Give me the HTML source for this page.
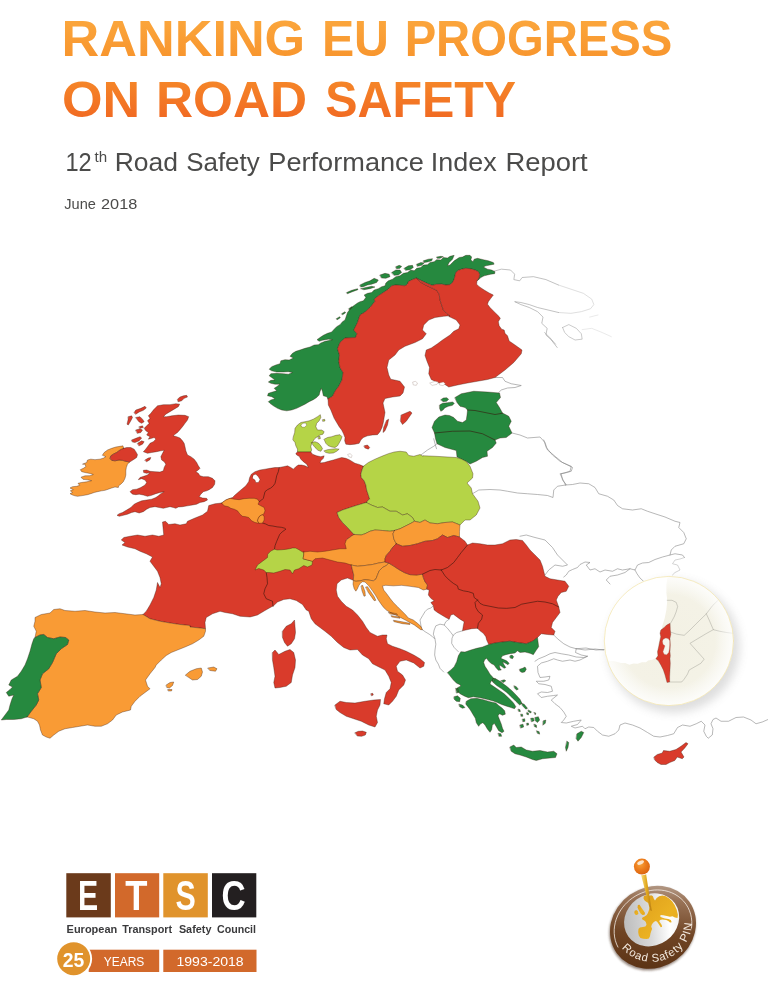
<!DOCTYPE html>
<html lang="en">
<head>
<meta charset="utf-8">
<title>Ranking EU Progress on Road Safety</title>
<style>
html,body{margin:0;padding:0;background:#fff;}
body{width:768px;height:983px;overflow:hidden;position:relative;font-family:"Liberation Sans",sans-serif;}
svg{position:absolute;left:0;top:0;display:block;}
svg text{font-family:"Liberation Sans",sans-serif;}
</style>
</head>
<body>
<svg width="768" height="983" viewBox="0 0 768 983">
<defs>
<linearGradient id="tg" gradientUnits="userSpaceOnUse" x1="0" y1="20" x2="0" y2="118">
<stop offset="0" stop-color="#fba63c"/>
<stop offset="0.45" stop-color="#f7922b"/>
<stop offset="1" stop-color="#f16a22"/>
</linearGradient>
<clipPath id="ic"><circle cx="668.9" cy="641" r="64.6"/></clipPath>
<filter id="blur" x="-30%" y="-30%" width="160%" height="160%"><feGaussianBlur stdDeviation="5"/></filter>
<filter id="blur1" x="-30%" y="-30%" width="160%" height="160%"><feGaussianBlur stdDeviation="1.2"/></filter>
<radialGradient id="land" cx="0.5" cy="0.5" r="0.5"><stop offset="0" stop-color="#f3f1e4"/><stop offset="0.7" stop-color="#f4f2e6"/><stop offset="1" stop-color="#f7f6ee"/></radialGradient>
<radialGradient id="rimfade" cx="0.5" cy="0.5" r="0.5"><stop offset="0.72" stop-color="#fff" stop-opacity="0"/><stop offset="0.93" stop-color="#fff" stop-opacity=".55"/><stop offset="1" stop-color="#fff" stop-opacity=".75"/></radialGradient>
<linearGradient id="brown" x1="0.92" y1="0.08" x2="0.15" y2="0.9"><stop offset="0" stop-color="#c0ad9f"/><stop offset="0.22" stop-color="#9a7458"/><stop offset="0.6" stop-color="#6f4424"/><stop offset="1" stop-color="#5a3214"/></linearGradient>
<linearGradient id="silver" x1="0.05" y1="0.3" x2="0.95" y2="0.75"><stop offset="0" stop-color="#bdbdbd"/><stop offset="0.45" stop-color="#d9d9d9"/><stop offset="0.8" stop-color="#ffffff"/><stop offset="1" stop-color="#f2f2f2"/></linearGradient>
<linearGradient id="gold" x1="0" y1="0" x2="1" y2="1"><stop offset="0" stop-color="#dd9e1b"/><stop offset="0.6" stop-color="#ebb223"/><stop offset="1" stop-color="#e2a51d"/></linearGradient>
<radialGradient id="pinhead" cx="0.4" cy="0.35" r="0.7"><stop offset="0" stop-color="#f7a23a"/><stop offset="0.5" stop-color="#ec7c1c"/><stop offset="1" stop-color="#d9620f"/></radialGradient>
<linearGradient id="needle" x1="0" y1="0" x2="1" y2="0"><stop offset="0" stop-color="#f6dc7a"/><stop offset="0.5" stop-color="#e2a91f"/><stop offset="1" stop-color="#b97d10"/></linearGradient>
</defs>
<rect width="768" height="983" fill="#fff"/>
<!-- title -->
<g>
<text x="61.64" y="56.4" font-size="49.6" font-weight="bold" fill="url(#tg)" textLength="243.57" lengthAdjust="spacingAndGlyphs">RANKING</text>
<text x="321.88" y="56.4" font-size="49.6" font-weight="bold" fill="url(#tg)" textLength="67.06" lengthAdjust="spacingAndGlyphs">EU</text>
<text x="404.64" y="56.4" font-size="49.6" font-weight="bold" fill="url(#tg)" textLength="267.68" lengthAdjust="spacingAndGlyphs">PROGRESS</text>
<text x="62.00" y="117.1" font-size="49.6" font-weight="bold" fill="url(#tg)" textLength="78.16" lengthAdjust="spacingAndGlyphs">ON</text>
<text x="155.99" y="117.1" font-size="49.6" font-weight="bold" fill="url(#tg)" textLength="151.19" lengthAdjust="spacingAndGlyphs">ROAD</text>
<text x="325.22" y="117.1" font-size="49.6" font-weight="bold" fill="url(#tg)" textLength="190.85" lengthAdjust="spacingAndGlyphs">SAFETY</text>
<text x="65.49" y="171.4" font-size="25.9" fill="#4b4b4a" textLength="26.28" lengthAdjust="spacingAndGlyphs">12</text>
<text x="94.50" y="162.2" font-size="14.6" fill="#4b4b4a" textLength="12.62" lengthAdjust="spacingAndGlyphs">th</text>
<text x="114.76" y="171.4" font-size="25.9" fill="#4b4b4a" textLength="63.27" lengthAdjust="spacingAndGlyphs">Road</text>
<text x="186.20" y="171.4" font-size="25.9" fill="#4b4b4a" textLength="73.55" lengthAdjust="spacingAndGlyphs">Safety</text>
<text x="268.30" y="171.4" font-size="25.9" fill="#4b4b4a" textLength="155.52" lengthAdjust="spacingAndGlyphs">Performance</text>
<text x="430.82" y="171.4" font-size="25.9" fill="#4b4b4a" textLength="65.82" lengthAdjust="spacingAndGlyphs">Index</text>
<text x="505.48" y="171.4" font-size="25.9" fill="#4b4b4a" textLength="82.22" lengthAdjust="spacingAndGlyphs">Report</text>
<text x="64.30" y="209.4" font-size="15.2" fill="#4b4b4a" textLength="31.63" lengthAdjust="spacingAndGlyphs">June</text>
<text x="101.00" y="209.4" font-size="15.2" fill="#4b4b4a" textLength="36.28" lengthAdjust="spacingAndGlyphs">2018</text>
</g>

<!-- map -->
<g class="map" stroke="#36160c" stroke-opacity=".7" stroke-width=".5" stroke-linejoin="round" stroke-linecap="round">
<path d="M512,433 520,435 527.5,438 540,437 545,442.5 547.5,450 555,456.25 562.5,462.5 571.25,466.25 570,471.25 561.25,473.75 562.5,480 566.25,484.5" fill="none" stroke="#7c7c7c" stroke-opacity="1" stroke-width=".55"/>
<path d="M565.5,485 557.5,486.25 553.75,490 553,497.5 547.5,495.5 537.5,494.5 527.5,493.75 517.5,493 507.5,491.25 500,490 490,489.5 478.75,490 472.5,493.75" fill="none" stroke="#7c7c7c" stroke-opacity="1" stroke-width=".55"/>
<path d="M565.5,485 572.5,484.5 580,483 588.75,483.75 595,487.5 598.75,493.75 607.5,496.25 613.75,500 617.5,505.5 622.5,508.75 632.5,510 641.25,508.75 647.5,511.25 655,513.75 665,517 675,521.25 680,522.5 678.75,527.5 683.75,532.5 686.25,538.75 683.75,543.75 675,546.25 671.25,550 670,555" fill="none" stroke="#7c7c7c" stroke-opacity="1" stroke-width=".55"/>
<path d="M543.75,440 546.25,447.5 552.5,455 560,461.25 567.5,465 572.5,467.5 571.25,471.25 565,473 560,473.75 562.5,478.75 565.5,485" fill="none" stroke="#7c7c7c" stroke-opacity="1" stroke-width=".55"/>
<path d="M684.5,557.5 682.5,555 675,553.75 670,555 662.5,557 655,559.5 648.75,562.5 642.5,563 637.5,565 635,570 630,568.75 622.5,570 617.5,568.75 612.5,571.25 605,570 600,572 595,568.75 590,570 586.25,565 590,562.5 585,562 580,564.5 577.5,567.5 572.5,569.5 568.75,571.25 566.25,575 563.75,577" fill="none" stroke="#7c7c7c" stroke-opacity="1" stroke-width=".55"/>
<path d="M684.5,557.5 680,559 675,560 672.5,563.75 677.5,565 680,570 675,572.5 672.5,575" fill="none" stroke="#b0b0b0" stroke-opacity="1" stroke-width=".55"/>
<path d="M635,570 637,573.75 640,578 643.75,581.5M630,568.75 625,572.5 617.5,575 610,576.25 606.25,580 610,584" fill="none" stroke="#7c7c7c" stroke-opacity="1" stroke-width=".55"/>
<path d="M520,536.25 526.25,535 535,537.5 545,540 552.5,547.5 557.5,555 562.5,560 567.5,565 562.5,566.25 555,565 548.75,570 545,575" fill="none" stroke="#7c7c7c" stroke-opacity="1" stroke-width=".55"/>
<path d="M437,443.75 433.75,446.25 427.5,450 422.5,453.75 420,455.5M433.75,438.75 435,443.75 436.5,448.75" fill="none" stroke="#7c7c7c" stroke-opacity="1" stroke-width=".55"/>
<path d="M495,377.5 502.5,377.5 505,381.25 511.25,383.75 521.25,385.5 515,387.5 507.5,388 501.25,390 498.75,392.5" fill="none" stroke="#7c7c7c" stroke-opacity="1" stroke-width=".55"/>
<path d="M421.67,629.17 425,631.67 429.17,634.17 432.5,636.67 435,639.17 435.83,644.17 435,650 434.67,655 435.83,660 438.33,664.17 440,668.33 443.67,672" fill="none" stroke="#7c7c7c" stroke-opacity="1" stroke-width=".55"/>
<path d="M462.5,630.83 456.67,632.5 453.33,635 452,638.33 451.67,643.33 454.17,647.5 458.33,651.67" fill="none" stroke="#7c7c7c" stroke-opacity="1" stroke-width=".55"/>
<path d="M449.17,619.17 445.83,621.67 444.17,625 447.5,628.33 450.83,632.5 453,635.33" fill="none" stroke="#7c7c7c" stroke-opacity="1" stroke-width=".55"/>
<path d="M421.67,629.17 420.83,625 420,620 422.5,615.83 425,611.67 427.5,609.17 430.83,608 433.33,605.83M444.17,625 440,624.17 435.83,625.83 434.17,630 433.33,634.17 435,638.67" fill="none" stroke="#7c7c7c" stroke-opacity="1" stroke-width=".55"/>
<path d="M552.5,633.75 557.5,638.75 563.75,643.75 570,647 576.25,648.75 585,650 595,649 603.75,650" fill="none" stroke="#7c7c7c" stroke-opacity="1" stroke-width=".55"/>
<path d="M576.25,648.75 575.5,652.5 581.25,655 587.5,656.25 583.75,657.5 576.25,657 568.75,655 561.25,653.75 555,652.5 550,653.75 545,656.25 538.75,658.75 535,661.25" fill="none" stroke="#7c7c7c" stroke-opacity="1" stroke-width=".55"/>
<path d="M587.5,656.25 580,660 575,661.25 570,660 562.5,661.25 557.5,660 553.75,658.75 547.5,661.25 541.25,663 537.5,666.25 538,672.5 540,677.5 545,677 550,676.25 548.75,680 543.75,681.25 536.25,681.25 538.75,683.75 545,684.5 551.25,686.25 552.5,691.25 547.5,692.5 541.25,692 537.5,693.75 541.25,697.5 547.5,696.25 553.75,695.5 557.5,695 551.25,700 555,703.75 560,707.5 563.75,712 566.25,716.25 563.75,720 561.25,722.5 566.25,723 573.75,721.25 581.25,720 577.5,724.5 571.25,726.25 575,728 582.5,726.25 585,728.75 588.75,727 593.75,727.5 597.5,731.25 602.5,735 608.75,736.25 615,733.75 618.75,730 620,725 625,723 632.5,725 640,728 647.5,732.5 653.75,736.25 660,737 667.5,735.5 673.75,733.75 677.5,727.5 682.5,725 690,726.25 696.25,723.75 701.25,721.25 705,725 703.75,731.25 706.25,736.25 708,738" fill="none" stroke="#7c7c7c" stroke-opacity="1" stroke-width=".55"/>
<path d="M708.5,738 712.25,735 713,728.75 711,723.75 713,719.5 716,718 721,721.25 728.5,721.25 736,717.5 743.5,717 751,720 756,723.75 762.25,722 768,719.5" fill="none" stroke="#7c7c7c" stroke-opacity="1" stroke-width=".55"/>
<path d="M576,648.75 586,648 596,650 604.25,649.5" fill="none" stroke="#7c7c7c" stroke-opacity="1" stroke-width=".55"/>
<path d="M493.83,271.25 501.33,269.17 510.5,270 514.67,274.17 513.83,279.58 519.67,280.83 522.17,277.5 533.42,276.67 545.92,279.58 558.42,285" fill="none" stroke="#909090" stroke-opacity="1" stroke-width=".55"/>
<path d="M558.42,285 570.92,289.17 583.42,293.33 591.75,299.17 593.83,304.58 590.5,308.75 581.33,311.67 570.92,313.33 558.42,312.5" fill="none" stroke="#c4c4c4" stroke-opacity="1" stroke-width=".55"/>
<path d="M558.42,312.5 548,310 537.58,307.5 529.25,304.58 520.92,302.5 514.67,301.67 520.92,304.58 529.25,307.5 537.58,311.67 543,317.08 541.75,323.33 547.17,328.33 545.92,335 551.33,340 557.17,347.5M544.67,332.5 550.08,337.92 555.5,344.17" fill="none" stroke="#909090" stroke-opacity="1" stroke-width=".55"/>
<path d="M562.58,327.5 568.83,324.58 576.33,328.33 581.33,333.75 582.17,339.17 575.08,340 568.83,336.67 564.67,332.5 562.58,327.5" fill="none" stroke="#a0a0a0" stroke-opacity="1" stroke-width=".55"/>
<path d="M582.17,329.58 591.75,328.33 602.17,332.5 611.33,336.67M589.67,317.08 598,315" fill="none" stroke="#d8d8d8" stroke-opacity="1" stroke-width=".55"/>
<path d="M328,398.75 326.67,396.67 323.33,395.83 322.5,391.67 321.33,388.33 320,391.67 319.17,395 316.67,397.5 313.33,399.67 309.17,401.67 305,404.17 300.83,406.33 296.67,408.33 291.67,410 286.67,410.83 281.67,410 277.5,408.33 273.33,405.83 270,403.33 268.33,401.67 270.83,400 275,398.67 271.67,396.67 267.5,395.83 268.33,393.33 272.5,392 276.67,390.83 274.17,388.33 276.67,386.67 280,384.17 275,384.17 270.83,383.33 268.33,382 270.83,380.33 275,380 271.67,377.5 269.17,375.83 270.83,373.67 276.67,373.33 283.33,373.67 288.33,374.17 292.5,372.5 288.33,371.67 283.33,372 276.67,372 271.67,370.83 269.17,369.17 271.67,366.67 275.83,365 280,363.67 280.83,360.83 285,359.67 289.17,360 293.33,358 290,356.33 292.5,353.33 295.83,351.33 300,350 305,348.33 310,347 314.17,345 318.33,344.67 320.83,343 325,341.33 330,340.33 332.5,339.67 328.33,339.17 322.5,340.33 319.17,341.33 317,339.67 320,337.5 323.33,335.33 327.5,333.33 331.67,332 334.17,329.17 336.67,326.67 340,324.67 342.5,321.67 345,320 347.5,312.5 351.25,307.5 357.5,303 360,301.67 363.33,300.83 365.83,297.5 364.17,295 367.5,293.33 371.67,292.5 374.17,290 378.33,288.67 381.67,286.67 385,285.83 385.83,283 388.33,280.83 392.5,279.17 395.83,276.67 400,275.83 403.33,273.33 407.5,272.5 410.83,270 414.17,270.83 416.67,268.33 420.83,267.5 423.33,265 427.5,264.67 430,262.5 434.17,261.67 436.67,259.67 440.83,260 443.33,257.5 447.5,258 450,256.33 454.17,255.33 452.5,259.17 449.17,262.5 447.5,265.83 450,265 454.17,260.83 458,258.33 459.17,257.5 462.5,257 465.83,255.33 470,255.33 471.67,257 470.83,260 473,261.67 474.17,259.17 477.5,258.33 483.33,259.67 488.33,260.83 493.33,262.5 494.17,264.17 490,265 485.83,265.83 483.33,267 487.5,269.17 491.67,270 495,271.67 494.67,273.67 490.83,274.17 487.5,275 484.17,275.83 480.83,277.5 478.33,280 477,280.83 479.17,277.5 479.67,274.17 478.33,271.67 475,270 470,268.67 465.83,268.33 461.67,269.17 458.33,270.33 455.83,272.5 455,275.83 454.17,279.17 452.5,282.5 450,284.67 445.83,285 441.67,284.17 436.67,284.33 432,285.33 426.33,283 421.33,280.67 416.67,278.33 415.83,278.33 411.67,280 408.33,281.67 407.5,284.17 405,285.83 400,285.33 395.83,285 391.67,285.83 388.33,289.17 383.33,292.5 378.33,295.83 374.17,299.17 375,301.25 370,307.5 365,312 360,315 357.5,322.5 353.75,330 357,333.75 355.5,337.5 345,338 340,342.5 337.5,348.75 339.5,355 338.75,361.25 340,367.5 343,372.5 342,380 338.75,386.25 335,391.25 332.5,396.25 328,398.75ZM346.67,292.5 351.67,290.33 357.5,288.67 358,289.67 352.5,291.67 347.5,293.67ZM360,285 365,282.5 370,280.83 374.17,278.33 378.33,280 376.67,282.5 371.67,284.17 367.5,285 363.33,286.67 360.83,287ZM360.83,288.67 365.83,287.5 371.67,286.33 375,287 370,288.67 364.17,289.67ZM380,275 385,273.33 389.17,274.17 390,276.67 385.83,278.33 381.67,278ZM391.67,272.5 395.83,270 400,270 401.67,272.5 398.33,275 394.17,275.33ZM395.83,266.67 399.17,265.33 401.67,266.33 400,268.33 396.67,268.67ZM404.17,268.33 408.33,265.83 412.5,265.33 413.33,267.5 410,269.67 405.83,270.33ZM416.67,264.17 420.83,262.5 424.17,263 421.67,265.33 417.5,266.33ZM423.33,260.83 428.33,259.17 432.5,258.67 431.67,260.83 427.5,262 424.17,262.5ZM436.67,257 440.83,256.33 443.33,256.67 440,258.33 437.5,258.33ZM336.33,318.67 339.67,316.67 340.33,317.67 337.33,319.67ZM341.67,313.67 345,311.67 345.67,312.67 342.67,314.67ZM348.67,308.67 351.67,306.67 352.33,307.67 349.67,309.67Z" fill="#26893f"/>
<path d="M328,398.75 332.5,396.25 335,391.25 338.75,386.25 342,380 343,372.5 340,367.5 338.75,361.25 339.5,355 337.5,348.75 340,342.5 345,338 355.5,337.5 357,333.75 353.75,330 357.5,322.5 360,315 365,312 370,307.5 375,301.25 374.17,299.17 378.33,295.83 383.33,292.5 388.33,289.17 391.67,285.83 395.83,285 400,285.33 405,285.83 407.5,284.17 408.33,281.67 411.67,280 415.83,278.33 416.67,278.33 420.83,282.33 426.33,285.33 432,288 436.67,290.33 439.17,294.17 440,300 441.67,305 443.33,310 446.67,313.33 450,315.83 443.75,316.25 435,317.5 428.75,320 423.75,325 422.5,330 426.25,333.75 422.5,338.75 415,342.5 405,346.25 398.75,350 395,355 388.75,360 387,367.5 388.75,375 390.75,379.25 395.75,380.25 400,381.25 404.5,387 403,393 400,396 392.5,397 385,398.5 383,403 385,412.5 384.17,417.5 383.33,422.5 382,427.5 380,431.67 377.5,434.67 372.5,435 367.5,435.83 363.33,437.5 360.83,440 359.17,443.33 355,444.17 350,444.67 345.83,444.17 344.67,440.83 345,437.5 343.33,433.33 341.67,430 339.17,426.67 336.67,422.5 334.17,418.33 332.5,414.17 330.83,410 328.33,405 328,398.75Z" fill="#d93b2b"/>
<path d="M386.67,420.33 388.67,419.17 387.5,425 385,430.83 383,432.5 383.67,427.5ZM401.25,415 410,411.25 412,413 406.25,421.25 402.5,424.5 400.5,421.25ZM364.17,445.83 367.5,445 369.67,447.5 368.33,449.17 365,448Z" fill="#d93b2b"/>
<path d="M348,454.33 350.33,453.67 352,455.67 351.33,457.67 349,456.67 Z" fill="#fff" stroke="#8a6a60" stroke-width=".4"/>
<path d="M416.67,278.33 421.33,280.67 426.33,283 432,285.33 436.67,284.33 441.67,284.17 445.83,285 450,284.67 452.5,282.5 454.17,279.17 455,275.83 455.83,272.5 458.33,270.33 461.67,269.17 465.83,268.33 470,268.67 475,270 478.33,271.67 479.67,274.17 479.17,277.5 477,280.83 476.67,284.17 479.17,286.67 484.17,290 489.17,293 493.33,295 490.83,298.33 488.33,301.67 487.5,304.17 490,307.5 494.17,311.67 498.33,315.83 500.33,318.33 498.33,321.67 499.17,325.83 501.67,329.17 504.17,330 505,333.33 507.5,335.83 509.17,341 515,345 522,350 521.25,353.75 513.75,362.5 505,370 495,377.5 487.5,379.5 477.5,381.25 467.5,383 457.5,385 448.75,387 445,384.5 437.5,382.5 431.25,379.5 428.75,373.75 429.5,367.5 427,361.25 425,355.5 426.25,350 431.25,348 437.5,343.75 442.5,340 450,335 453.75,331.25 458.75,328.75 460,325 456.25,320 450,317 448.75,316.5 450,315.83 446.67,313.33 443.33,310 441.67,305 440,300 439.17,294.17 436.67,290.33 432,288 426.33,285.33 420.83,282.33 416.67,278.33Z" fill="#d93b2b"/>
<path d="M293.33,436.67 294.67,432.5 295,428.33 297.5,425 300.83,422.5 305,421.67 309.17,420.83 313.33,419.17 317.5,416.67 320.33,414.67 320.83,417.5 319.17,420.83 316.67,423.33 315.83,426.67 317.5,430 321.67,430 324.17,431.67 323,434.17 320,435 317.5,436.67 315,438.33 313.33,440.83 311.67,443.33 310.83,446.67 311.67,450 310.83,452 305.83,452 297.5,452 297.5,449.17 295.83,445.83 295,442.5 293,440ZM311.67,442.5 315,441.67 318.33,443 320.83,445.83 322.5,448.67 320.83,451.33 318,450.33 315,447.5 313,445ZM324.17,439.17 327.5,437.5 331.67,436.67 335.83,435.33 340,434.67 342,436.67 340.83,440 339.17,443 337.5,445.83 335,447.5 331.67,447 328.33,445.83 325.83,443.33 324.67,440.83ZM324.17,450.83 327.5,449.67 331.67,449.17 335.83,448.67 339.17,449.17 336.67,451.33 333.33,453 329.17,453.33 325.83,452.5ZM322.67,419.67 324.67,419.33 325,421 323,421.33ZM318.33,436.67 320,436.33 320.33,438.67 318.67,439Z" fill="#b5d447"/>
<path d="M301,425 303,423.33 305.67,423 306.67,425.33 304.33,427.33 302,427 Z" fill="#fff" stroke-width=".35"/>
<path d="M455,397.5 461.25,393.75 473.75,391.25 487.5,392 499.5,393 500.5,397.5 496.25,402.5 499.5,407.5 502.5,413 508.75,416.25 511.25,421.25 508.75,426.25 512,433 506.25,437.5 500,438 495,440 496.25,443 492.5,447.5 487,451.25 487.5,456.25 482.5,457.5 476.25,461.25 470,464 466.25,461.5 457,457 456.25,450.5 445,447.5 437,443.75 435.5,438.75 434.5,433 432,427.5 434.5,421.25 438.75,417 445,415 449.5,415.5 453.75,417.5 457.5,421.25 462.5,422.5 466.25,420 467,415 467.5,410 465,407.5 460,406.25 457,402.5ZM439.67,405 442.5,403.33 447.5,402.67 452.5,402 454.33,403.33 452.5,405.33 448.33,406.33 445,407.67 443,410 440.83,411.33 439.67,408.67ZM440.83,399.67 443.33,398 446.67,397.67 448.67,399.33 446.67,401.33 443.33,401.67Z" fill="#26893f"/>
<path d="M413,382 415.33,381.33 417.5,383 416.33,385.33 413.67,385 Z M430,383 435,381.33 438.33,382 437,384.33 432.5,385.33 Z M439.33,383 443.33,382 445.33,383.67 443,385.67 440,385 Z" fill="#fff" stroke="#8a6a60" stroke-width=".4"/>
<path d="M467.5,410 475,410.5 485,412.5 495,414.5 502.5,413.25" fill="none" stroke-width=".85"/>
<path d="M434.5,433 452.5,431.25 470,431 482.5,433.75 495,440" fill="none" stroke-width=".85"/>
<path d="M153.33,410 157.5,405.83 163.33,404.67 170,404.67 175.83,403.67 179.67,404.17 178.33,406.67 174.17,409.17 170,411.67 165.83,414.17 163.33,416.67 166.67,416.67 171.67,415.83 178.33,415 185,415.33 188.67,416.67 187.5,420 185,423.33 182.5,426.67 180,429.67 177.5,432.5 175,434.17 173.33,435.83 176.67,436.67 180,438 182.5,440.83 184.17,443.33 185,446.67 185.83,450.83 187.5,455 190.83,456.67 194.17,459.17 196.67,462.5 198.33,465.83 200,468.33 198.33,470 195.83,471.67 198.33,473.33 200,475.83 203.33,476.67 208.33,476.67 212.5,478.33 215,480.83 214.67,484.17 212.5,487.5 209.17,489.67 206.67,490.83 203.33,491.67 200.83,494.17 199.17,496.67 202.5,498 206.67,498.33 207.5,500 204.17,501.67 200,502.5 196.67,504.17 192.5,505 187.5,505.83 182.5,506.67 178.33,507 175.83,508.33 173.33,507.5 170,506.67 166.67,507.5 163.33,508.33 159.17,507.5 155,506.67 150,507.5 146.67,509.17 143.33,511.67 139.17,513 135,511.67 131.67,512.5 127.5,514.17 123.33,515.33 119.17,516.33 117,515.33 119.17,513.67 122.5,512.5 126.67,510 130.83,507.5 134.17,504.17 137.5,502.5 141.67,500.83 146.67,500 151.67,499.17 155.83,497.5 158.33,495.83 160.83,493.67 164.17,491.67 160,492.5 155.83,493.67 151.67,495.33 147.5,496.33 143.33,495 139.17,494.17 135.83,494.67 132.5,494.17 130,491.67 132.5,489.67 136.67,489.17 140.83,487.5 145,485 146.67,482.5 145,480 141.67,478.67 138.33,479.67 140,477.5 143.67,476.33 147.5,475 150,472.5 146.67,473.33 143.67,472.5 143.33,470.33 146.67,470 150,471.33 155,471.67 160,472 163.33,470.83 164.17,467.5 165.83,464.17 164.17,461.67 161.67,460 160.83,456.67 162.5,453.33 164.17,450.33 160.83,450.83 156.67,451.67 151.67,452.5 147.5,453.33 143.33,451.67 145,450 147.5,446.67 150,443.33 153.33,441.67 155.83,439.17 154.17,437.5 151.67,438.33 148.33,439.17 150,436.67 146.67,435 148.33,432.5 145.83,430.83 144.17,428.33 146.67,425.83 149.17,423.33 147.5,420.83 150,418.33 148.33,415.83 150.83,413.33ZM134.17,412.5 135.83,410 140.83,408.33 145,406.33 146.33,408 143.33,410.33 139.17,412 135.83,414.17ZM128.33,416.67 131.67,415.83 132.5,417.5 130.83,420.83 128.33,425 127,424.17 128,420ZM135.83,417.5 140,416.67 142.5,419.17 144.17,421.67 141.67,423.33 139.17,422 137.5,420ZM135.83,430 140,428.67 142.5,430 140.83,432.5 137.5,433.33ZM139.17,426.67 142.5,425.83 143.33,427.5 140,428.33ZM131.67,440 135.83,438.33 140,436.67 141.67,438 139.17,440.83 135,442.5 132.5,442ZM137.5,443.33 141.67,440.83 144.17,441.67 142.5,444.17 139.17,445.83ZM177.5,399.17 180,397 183.33,395.83 186.67,395.33 187.5,397 184.17,398.33 181.67,400.83 178.33,401.67ZM145,460 148.33,458 150.83,457.5 150,459.67 146.67,461.67Z" fill="#d93b2b"/>
<path d="M102.5,455 104.17,452.5 107.5,450 111.67,448.33 115.83,447 120,446.33 123,445.83 123.67,448.33 120,450 116.67,452.5 113.33,454.17 110.83,455.83 110,458.33 111.67,460.33 115,460.83 119.17,460 122.5,460.33 125.83,461.33 129.67,462 127.5,464.17 126.33,467.5 125.83,470.83 125.83,475 125,478.33 123.33,481.67 120.83,484.17 118.67,485.83 118.33,487.5 115,487 111.67,488 108.33,489.17 105,490.33 101.67,490.83 97.5,491.67 94.17,492.5 90.83,493.67 87.5,494.67 84.17,495.33 80.83,495.83 77.5,496.33 75,495.83 72.5,495 70,493.67 72.5,492.5 70.33,490.83 73.33,489.67 70,488 72.5,486.67 76.67,486.33 79.67,485.33 78,483.33 81.33,482.5 86.67,481.83 91.67,480.67 87.5,479.83 83,479.33 81,477.17 85,475.83 90,475.67 93.33,474.5 90,473.5 85,472.5 81.67,471.67 80.33,469.67 83.33,468.33 85.83,466.67 85,464.17 82.5,464.17 86.67,462.5 87.5,460 90.83,459.17 95,459.67 100,459.17 103.67,458 105.83,456.67 103.67,455.83Z" fill="#f99b35"/>
<path d="M123.67,448.33 126.67,447.5 130.83,447.5 134.17,449.17 135.83,451.67 137.5,454.67 136.67,457.5 134.17,459.17 131.67,460.83 129.67,462 125.83,461.33 122.5,460.33 119.17,460 115,460.83 111.67,460.33 110,458.33 110.83,455.83 113.33,454.17 116.67,452.5 120,450 123.67,448.33Z" fill="#d93b2b"/>
<path d="M143,614.5 146.25,611.25 150,605 153.75,597.5 156.25,590 157.5,582.5 160,587.5 161.25,583.75 160,577.5 157.5,571.25 153.75,566.25 150,561.25 152.5,557 146.25,553.75 140,551.25 135,548.75 127.5,547 122,545 125,542.5 121.25,540 123.75,537.5 130,536.25 137.5,535 145,536.25 152.5,535 158.75,536.25 163.75,535 163,527.5 162.5,522 165.5,521.25 168.75,524.5 175,523.75 180,525 186.25,523.75 187.5,521.25 195,518 202.5,515 207.5,511.25 208.75,505.5 215,503.75 221.67,503 225.83,500 230,498.33 232.5,497.5 235,495 240.83,490 245.83,485.83 248.67,481.67 249.67,477.5 251.33,474.17 255,471.67 260,470 265,469.17 270,468.33 275,467.5 279.17,467.5 283.33,466.67 287.5,465.83 290.83,467.5 293.33,469.17 295.83,466.67 298.33,465 301.67,465 305,465.83 308.33,467.5 306.67,464.17 303.33,461.67 300.83,459.17 299.17,456.33 296.67,455 295.83,453.33 297.5,452 310.83,452 312.5,454.17 316.67,455.83 320.83,456.67 324.17,455.83 323.33,458.33 320.83,460.83 320,463 324.17,462.5 328.33,461.33 333.33,460 337.5,458.67 341.67,457.5 345.83,458.33 349.17,459.67 352.5,461.67 355,463.33 358.33,464.17 361.33,465.33 363.33,466.33 362,470 360.83,474.17 361.33,477.5 364.17,480.83 365.83,485 366.67,490 368.33,495 369.67,499.17 369.5,498.75 366.25,502.5 356.25,505.5 350,507.5 342.5,510 337,512.5 338.75,517.5 342.5,522.5 347.5,527.5 354,534.5 351.25,536.25 346.25,540 351.25,565 352.5,570 353.75,575 353.33,580.33 347.5,578 341.25,580 337,583.75 336.25,590 337.5,596.25 341.25,601.25 346.25,606.25 352.5,610 357.5,615 362.5,621.25 366.25,627.5 370,632.5 377.5,636.25 382.5,635 387,635 386.25,638.75 387.5,643.75 392.5,646.25 400,648.75 406.25,651.25 413.75,655 420,658.75 424.5,662.5 423.75,666.25 420,668 413.75,663 406.25,660 400,661.25 396.25,666.25 397.5,671.25 402.5,675 405.5,680 403.75,685 398.75,690 396.25,696.25 392.5,701.25 388.75,705 383.75,703.75 384.5,698.75 386.25,692.5 390,688.75 391.25,682.5 388.75,676.25 385,670 380,667.5 372.5,663.75 368.75,658.75 362.5,655 357.5,649.5 350,650 343.75,647.5 337.5,642.5 331.25,636.25 325,631.25 320,627.5 315,623.75 311.25,618.75 308.75,611.25 306.25,610 302.5,604.5 296.25,600.5 290,598.75 283.75,599.5 277.5,602 273,606.25 272.5,606.25 265,610.5 257.5,615 250,617 240,616.25 232.5,613.75 225,612.5 220,611.25 212.5,613.75 206.25,617.5 205,622.5 205.5,628.75 200,628 190,627 190,625.5 180,624.5 170,623 160,621.25 150,618.75 143,614.5Z" fill="#d93b2b"/>
<path d="M279.17,467.67 278.33,471.67 276.67,475.83 275.83,480 275,483.33 273.33,485.83 270.83,488 267.5,489.67 265,491.67 264.17,495 263.33,498.33 261.67,500 259.17,501.67" fill="none" stroke-width=".85"/>
<path d="M274.48,549.17 275,545.83 276.56,541.67 278.12,538.02 279.69,534.38 282.29,531.77 285.94,529.17 284.38,528.12 281.25,527.29 277.08,526.88 272.92,526.04 268.75,525.52 265.62,523.96 262.5,523" fill="none" stroke-width=".85"/>
<path d="M266.25,572.5 267,577.5 267.5,583.75 265,588.75 263.75,593.75 266.25,598.75 272.5,601.25 273,606.25" fill="none" stroke-width=".85"/>
<path d="M282.5,631.25 286.25,626.25 291.25,623.75 294.5,620 295,626.25 295.5,632.5 294.5,638.75 291.25,643.75 287.5,646.25 284.5,642.5 282.5,637.5Z" fill="#d93b2b"/>
<path d="M272.5,652.5 275,650 278.75,654.5 285,651.25 290,649.5 293.75,652.5 295.5,660 295,667.5 292.5,675 291.25,682.5 286.25,686.25 280,687.5 275,688 273.75,682.5 275,676.25 273.75,667.5 272.5,660Z" fill="#d93b2b"/>
<path d="M335,705 340,701.25 346.25,702.5 355,703 365,701.25 373.75,700 380.5,699.5 380,705 377.5,710 376.25,716.25 377.5,722.5 375,727 368.75,725 361.25,721.25 353.75,718.75 346.25,716.25 340,712.5 336.25,709.5ZM355,732.67 358.33,731.33 362.5,731 366.33,732.33 365.33,735 361.67,736.33 357.5,736ZM371,693.67 372.67,693.33 373.33,695 371.67,695.67Z" fill="#d93b2b"/>
<path d="M221.67,503 225.83,500 230,498.33 234.17,499.17 239.17,499.67 244.17,498.67 249.17,498.33 254.17,498.33 257.5,499.17 259.17,501.67 258,504.17 260.83,505.83 264.17,507.5 265,510.83 263.67,514.17 262.5,514.67 260,515.83 258.33,518.33 257.5,520.83 259.17,523.33 255,522.5 251.67,520.83 248.67,517.5 245.83,516.67 242.5,516.33 240,514.17 237.5,510.83 234.17,509.17 230.83,508.33 228.33,506.67 224.17,505.83 221.67,503Z" fill="#f99b35"/>
<path d="M253.33,475 255.83,474.17 258.33,476.67 260,479.67 258.33,482.5 255.83,482.5 255,480 252.5,478.33 Z" fill="#fff" stroke-width=".4"/>
<path d="M260,515.83 262.5,514.67 264.17,516.67 264.17,520 262.5,523 259.17,523.33 257.5,520.83 258.33,518.33Z" fill="#f99b35"/>
<path d="M303.75,552 302.6,552.08 301.04,551.04 298.44,549.48 295.83,548.12 292.71,547.92 289.58,548.75 285.42,549.38 281.25,549.79 277.08,550 274.48,549.17 270.83,551.04 267.71,554.17 267.5,557.5 262.5,561.25 257.5,565 255,570 258.75,568.5 263.75,570 266.25,572.5 268.75,572.5 273.75,573 280,571.25 285,569.5 290,570 292.5,573.75 294.5,570 298.75,568.75 303.75,565.5 307.5,567 312,565 312.5,561.25 307.5,560 303,558.75 303.75,555 303.75,552Z" fill="#b5d447"/>
<path d="M35,637.5 36.25,631.25 33.75,626.25 35,621.25 35,617.5 41.25,614.5 50,613 53.75,609.5 60,608.75 65,610.5 75,611.25 85,610.5 95,612 105,613 115,612.5 125,613.75 135,615 143,614.5 150,618.75 160,621.25 170,623 180,624.5 190,625.5 190,627 200,628 205.5,628.75 205.5,631.25 203.75,636.25 198.75,640 192.5,643.75 185,647 177.5,650 171.25,652.5 166.25,655.5 161.25,660 156.25,665 155,667.5 150,673.75 145.5,680 147.5,686.25 150,688.75 145,692.5 140,696.25 135,701.25 131.25,706.25 130.5,710 122.5,712 116.25,715 112.5,720 107.5,723.75 101.25,726.25 95,726.25 87.5,725 80,726.25 72.5,727.5 65,728.75 58.75,731.25 53.75,735 50,738.25 46.25,737 42.5,735 40.5,730 39.5,725 37.5,721.25 33.75,718.75 27.5,717 27,717 31.25,711.25 36.25,705 38.75,700 37.5,693.75 41.25,687.5 40,680 42.5,673.75 48.75,668.75 52.5,662.5 56.25,653.75 61.25,648.75 67.5,644.5 68.75,640 65.5,637.5 60,637 53.75,638.75 47.5,637.5 43.75,634.5 40,635 35,637.5ZM185.5,675 190,671.25 196.25,668.75 201.25,668 202.5,672 201.25,676.25 197.5,679.5 192.5,680 188.75,677.5ZM208,668 213.75,667 217,668.75 215.5,671.25 210,670.5ZM166.25,685 170,682.5 173.75,682 172.5,685.5 169.5,688 167,687.5ZM168,689.5 172,689.5 171.5,691 168.5,691Z" fill="#f99b35"/>
<path d="M27,717 31.25,711.25 36.25,705 38.75,700 37.5,693.75 41.25,687.5 40,680 42.5,673.75 48.75,668.75 52.5,662.5 56.25,653.75 61.25,648.75 67.5,644.5 68.75,640 65.5,637.5 60,637 53.75,638.75 47.5,637.5 43.75,634.5 40,635 35,637.5 33.75,638.75 32,643.75 30,651.25 27.5,658.75 25,665 21.25,671.25 17.5,676.25 11.25,680 8.75,685 12.5,687 10,689.5 6.25,692.5 8.75,696.25 13.75,695 12,698.75 10,705 8.75,710 5,715 1.25,720 6.25,719.5 13.75,719.5 21.25,718.75 27,717Z" fill="#26893f"/>
<path d="M363.33,466.33 368.33,462.5 375,459.17 381.67,456.33 388.33,453.67 394.17,452 400,451.25 406.25,452 408.75,455.5 413.75,456.25 420,454.5 423,456.25 423,455.75 435,456.25 456.25,457.5 461.25,459 466.25,461.5 470,466.25 473,473.75 472.5,478 467,483 471.25,488 472.5,493.75 478,501.25 480,508 476.25,515 470,520 465,520 460,525 452.5,522 445,522.5 437.5,523.75 430,523 425,520 420,522.5 414.5,521.25 412.5,517.5 407.5,513.75 402.5,515 396.25,511.25 390,511.25 382.5,507 377.5,507.5 371.25,505 366.25,502.5 369.5,498.75 369.67,499.17 368.33,495 366.67,490 365.83,485 364.17,480.83 361.33,477.5 360.83,474.17 362,470 363.33,466.33Z" fill="#b5d447"/>
<path d="M366.25,502.5 356.25,505.5 350,507.5 342.5,510 337,512.5 338.75,517.5 342.5,522.5 347.5,527.5 354,534.5 361.25,535 365,533.75 370,531.25 375,530 382.5,530.5 390,531.25 394.5,530.5 400,528.75 405,526.25 410,523.75 414.5,521.25 412.5,517.5 407.5,513.75 402.5,515 396.25,511.25 390,511.25 382.5,507 377.5,507.5 371.25,505 366.25,502.5Z" fill="#b5d447"/>
<path d="M354,534.5 351.25,536.25 346.25,540 345,543.75 346.25,548.75 340,548.75 332.5,550 325,551.25 317.5,552 310,551.25 303.75,552 303.75,555 303,558.75 307.5,560 312.5,561.25 315,558.75 322.5,558 330,560 337.5,562 345,563 351.25,565 357.5,566.25 365,565.5 372.5,564.5 378.75,563 385,562 385,558.75 386.25,555.5 390,551.25 392.5,547.5 396.25,543.75 393.75,538.75 393,533.75 394.5,530.5 390,531.25 382.5,530.5 375,530 370,531.25 365,533.75 361.25,535 354,534.5Z" fill="#f99b35"/>
<path d="M394.5,530.5 400,528.75 405,526.25 410,523.75 414.5,521.25 420,522.5 425,520 430,523 437.5,523.75 445,522.5 452.5,522 460,525 459.5,531.25 459.5,537 453.75,535.5 447.5,537.5 442.5,535 437.5,538.75 432.5,540.5 425,541.25 417.5,543.75 410,545.5 402.5,546.25 396.25,543.75 393.75,538.75 393,533.75 394.5,530.5Z" fill="#f99b35"/>
<path d="M351.25,565 357.5,566.25 365,565.5 372.5,564.5 378.75,563 385,562 388.67,563 386.67,565.33 382.5,567.5 379.17,570.83 377.5,575 375.83,579.17 373.33,580.83 368.33,580 365,579.67 360,580.83 355.83,581.33 353.33,580.33 353.75,575 352.5,570 351.25,565Z" fill="#f99b35"/>
<path d="M388.67,563 393.33,565.83 398.33,569.17 404.17,572.5 410,574.67 416.67,575 422.5,574.17 423.33,577.5 425,581.67 427.5,585 426.67,589.17 423.33,590 418.33,587.5 410,586.33 401.67,585.33 393.33,585.83 385.83,585.33 382.5,585.83 383.67,590 386.67,593.67 390,598.33 393.33,602.5 397.5,606.67 401.67,610.83 405.83,615 408.33,618 413.33,620 417.5,623.33 420.83,626.33 422.5,629.67 420.67,629.67 418,627.67 414.33,625 410,622.67 405.83,620.33 400.83,617.67 395.83,615 390.83,612.67 386.67,610.33 383.67,607.5 380.83,603.67 378.33,600 375.83,595.83 372.5,590.83 368.33,585.33 365,582 362.5,581.67 360.33,583.33 358.67,585.83 357.5,588.67 355.83,591.17 354.17,588.67 353,584.17 353.33,580.33 355.83,581.33 360,580.83 365,579.67 368.33,580 373.33,580.83 375.83,579.17 377.5,575 379.17,570.83 382.5,567.5 386.67,565.33 388.67,563ZM361.33,585.83 362.67,585.33 365,591.67 365.33,595.83 364,596.33 362,590.83ZM365.83,587 367.5,586.67 370.83,591.67 374.17,596.67 375.83,600.33 374.17,600.67 371.33,596.67 368.33,592.5ZM388.67,612.33 396.67,613.67 397.5,615 390,614ZM391.33,615.67 399.17,617 400,618.33 392,617ZM393.67,620.33 403.33,622 409.67,623.33 410,624.5 402.5,623.67 394.17,621.67Z" fill="#f99b35"/>
<path d="M396.25,543.75 402.5,546.25 410,545.5 417.5,543.75 425,541.25 432.5,540.5 437.5,538.75 442.5,535 447.5,537.5 453.75,535.5 459.5,537 465,541.25 467.5,545 472.5,543 480,543.75 487.5,545 495,545 502.5,543.75 510,540 516.25,539.5 522.5,540.5 526.25,545 530,550 535,555 540,560 542.5,566.25 543.75,571.25 545,576.25 550,578.75 557.5,580 565,581.25 568.75,586.25 566.25,591.25 561.25,592.5 558,596.25 556.25,600 558.75,607 560,612.5 556.25,617.5 552.5,622.5 551.25,627.5 555,631.25 553.75,635 547.5,634.5 541.25,633.75 537.5,637.5 532.5,641.25 526.25,643.75 517.5,642.5 510,641.25 502.5,642 495,643 488.75,644.5 486.67,640 485.83,636.67 483.33,633.33 480,630.83 477.5,628.33 471.67,628.67 465.83,630 462.5,630.83 463.33,625.83 464.17,621.67 460,619.17 456.67,616.67 453.33,614.17 450.83,615 449.17,619.17 445.83,617.5 441.67,615 437.5,612.5 434.17,610 433.33,605.83 430.83,602.5 434.17,600.83 430.83,598.33 428.33,595 429.17,590 426.67,589.17 427.5,585 425,581.67 423.33,577.5 422.5,574.17 416.67,575 410,574.67 404.17,572.5 398.33,569.17 393.33,565.83 388.67,563 385,562 385,558.75 386.25,555.5 390,551.25 392.5,547.5 396.25,543.75Z" fill="#d93b2b"/>
<path d="M467.5,545 465,548 461.25,552.5 457.5,557.5 453.75,562.5 447.5,567.5 441.25,570" fill="none" stroke-width=".85"/>
<path d="M441.25,570 435,569.5 430,570.5 422.5,574.17" fill="none" stroke-width=".85"/>
<path d="M441.25,570 445,575.83 449.17,580 453.33,583.33 457.5,585.83 458.33,589.17 463.33,590.83 468.33,591.67 473.33,593.33 474.17,597.5 477.5,600" fill="none" stroke-width=".85"/>
<path d="M477.5,600 480,603.33 483.33,605 490,606.33 498.33,608 506.67,608.33 515,607.5 521.67,604.17 537.5,601.25 545,602 552.5,603.75 558.75,607" fill="none" stroke-width=".85"/>
<path d="M477.5,600 475,602.5 475.83,607.5 478.33,611.67 482.5,615 481.67,619.17 478.33,623.33 477.5,628.33" fill="none" stroke-width=".85"/>
<path d="M447.5,672.5 450.83,670 454.17,666.67 456.67,661.67 458.33,655.83 460.83,651.67 465,652 470.83,650 476.67,648.33 482.5,647 488.75,644.5 495,643 502.5,642 510,641.25 517.5,642.5 526.25,643.75 532.5,641.25 537.5,637.5 538.67,646.67 535.83,650.83 533.33,654.67 530,653.33 525,652 520,652.5 517.5,650.83 515,653 510,653.67 505.83,654.67 502.5,655.83 500.83,658.33 506.67,660.83 509.17,663.33 508,664.67 504.17,662.5 502.5,662 504.17,665 505.83,667.5 504.17,668.33 500.83,665.83 499.17,665.33 500,668.33 501.33,670 498.33,670.33 495.83,667.5 494.17,665 490.83,663.33 488.33,660.83 486.67,658.33 484.67,659.67 483.67,662.5 485,666.33 487.5,670 490,674.17 493,677.5 495.33,680 493.67,681.67 491.33,680.83 490.5,682.5 490,684 494.17,686.83 499.17,690.17 504.17,693.83 509.17,698.5 513.33,702.67 515.83,706.67 514.5,708.67 511.67,707.83 506.67,706.17 501.67,704.5 496.67,702.33 493.33,701 486.67,699.33 480,697.67 473.33,696.83 468.33,697.67 464.17,696 460,693.67 456.67,690.33 457.5,687.67 460.83,686 460,684.67 456.67,683.33 453.33,680 450,675.83ZM493,678.67 495,678.33 500,681.33 506.67,686.33 511.67,690.5 515.83,694.67 520,699.33 522,703.33 519.67,705 515.83,701.33 511.67,697.17 506.67,692.5 501.67,688.83 496.67,685.5 492.67,682ZM466.33,701.33 470.83,698.67 476.67,698.33 483.33,699.67 490,701.67 495.83,703 498.67,705.5 502,708 504.67,710.83 505.33,714.17 502.5,715.33 499.5,713.67 498,715.83 499.67,720 501.33,724.17 502.5,728.33 504,731.33 502,732.67 498.67,730.67 496.33,726.67 494.33,723.33 492.33,725.33 491.67,729.67 490,732.33 487.33,729 485,725 482.83,722.67 480.33,724 478.67,726.33 476.33,722.83 475.33,718.33 472.83,714.17 470.33,710 467.83,706.67 465.83,704.17ZM510,747 513.75,745 516.25,747.5 521.25,747 526.25,750 532.5,751.25 540,750.5 547.5,752 553.75,751.25 557,753.75 555.5,757.5 550,758 542.5,758.75 536.25,760.5 532.5,759.5 526.25,757 520,755 515,753.75 511.25,751.25ZM577,733.75 581.25,731.25 583.75,732.5 581.25,737.5 578,741.25 576.25,738.75ZM567,741.25 568.75,742.5 568,747.5 566.25,751.25 565.5,747.5ZM510,655.83 512,655 513.67,656.67 512.5,658.67 510.33,658ZM519.67,669.17 522.5,668.33 525,667 526.33,669.17 524.67,672 522,672.5 520,671.33ZM500.83,680.83 504.17,679.67 505.83,680.83 503.33,682.5ZM514.17,685.83 516.33,686.67 518.33,689.17 516.67,690 514.67,688.33ZM521.67,703.33 524.17,704.17 527.5,708.33 525.83,709.17 522.5,705.83ZM528.33,710 531.33,711.67 530.83,713 528.33,711.67ZM535,717.5 538.33,716.67 539.67,720 537.5,722.5 535.33,720.83ZM530.83,718.33 533.33,718 534.17,720.83 531.67,721.67ZM543.33,720.83 545.83,720 545.33,723.33 543,725ZM520,725 523,724.17 523.67,727 520.83,728ZM522.5,719.17 524.67,718.67 525,721.33 523,721.67ZM526.67,723.33 528.33,723 528.67,725 527,725.33ZM534.17,724.17 536.33,725 536.67,727.5 534.67,726.67ZM536.67,730.83 539.17,731.67 539.67,734.17 537.5,733.33ZM518.33,709.17 520,709.67 520.33,711.67 518.67,711.33ZM520.83,714.17 522.5,714.17 522.83,716.33 521.17,716.33ZM527,712.5 528.67,713.33 528.33,715 526.67,714.17ZM534.17,712.5 535.83,713 535.33,714.67ZM455.83,688.33 458,688.67 458.67,692.5 456.67,693ZM454.17,696.67 457.5,695.83 460.33,698.33 459.67,701.67 456.33,701.33 454.17,699.17ZM459.17,704.17 462.5,705 465,707.5 462.5,708.33 459.67,706.67ZM498.33,733.33 500.83,733.67 501.67,736.33 499.17,736.33Z" fill="#26893f"/>
<path d="M654,757 657.25,754.5 662.25,753 663.5,750.5 669.75,751.25 676,749.5 681,746.25 686,742.5 688,743.75 684.75,748 681,752 684,757 682.25,758.75 677.25,757 674.75,760.5 669.75,762.5 666,764.5 661,764.5 657.25,762.5 654.75,760Z" fill="#d93b2b"/>
<g class="inset" stroke="none">
<circle cx="673.4" cy="646.5" r="66.1" fill="#6a6a6a" opacity=".22" filter="url(#blur)"/>
<circle cx="668.9" cy="641.0" r="64.6" fill="url(#land)"/>
<g clip-path="url(#ic)">
<path d="M667.88,574.25 666.42,584.67 666.42,593 667.25,600.29 666.42,609.67 664.75,618 662.25,626.33 660.17,634.67 658.5,645.08 657.46,651.33 656.42,658 652.25,659.67 648.08,660.5 646,662.17 641.83,662.17 637.67,663.83 633.5,663.42 629.33,664.67 625.17,663 621,663 614.75,661.33 596,659.67 596,568Z" fill="#fff"/>
<path d="M667.25,600.29 672.04,600.29 676.21,602.38 677.67,606.54 676.21,611.75 674.12,616.96 671,622.58M670.33,632 676.67,634.17 684.17,635.33 690,630 695.83,624.17 700,620 706.33,613.83 712.67,605.5 718.33,600M706.33,613.83 709.17,620 711.67,625.83 713.33,629.67 720,631.33 726.67,632.5 733.33,633.33M713.33,629.67 706.67,633.33 698.33,638.33 690,643.33 696.67,650.83 704.17,659.17 700.83,663.33 695,666.67 689.17,670 687.5,674.17 684.17,679.17 681.67,682 669.67,682" fill="none" stroke="#85857c" stroke-width=".5"/>
<path d="M670,623.33 666.67,625 664.17,627.5 660.83,630 660,633.33 660.83,636.67 659.67,641.67 658.67,646.67 657.5,651.67 658,655.83 655.83,658.67 658.33,660.83 660.83,665 663.33,670 665,675 666.33,680 667,682.5 669.67,682 669.67,676.67 670,670 670.33,663.33 670,658.67 670.33,655.83 670,651.67 670.33,645 670,638.33 670.83,634.17 670.33,630Z" fill="#d93b2b" stroke="#5a3a30" stroke-width=".4"/>
<path d="M663.33,639.17 665.83,638 668.33,638.67 669.67,640.83 669.67,645 669.33,649.17 668.67,652.5 666.67,654.67 664.17,654.17 663,651.67 664.17,648.33 665,645.83 663,644.17 662.5,641.33Z" fill="#f8f6ee" stroke="#a08a80" stroke-width=".4"/>
<circle cx="668.9" cy="641.0" r="64.6" fill="url(#rimfade)"/>
</g>
<circle cx="668.9" cy="641.0" r="64.6" fill="none" stroke="#f3e5ab" stroke-width="1"/>
</g>
</g>

<!-- ETSC logo -->
<g>
<rect x="66.3" y="873.2" width="44.5" height="44.2" fill="#6b3a1b"/>
<rect x="115" y="873.2" width="44.2" height="44.2" fill="#d2692b"/>
<rect x="163.3" y="873.2" width="44.5" height="44.2" fill="#e0932c"/>
<rect x="212" y="873.2" width="44.3" height="44.2" fill="#231f20"/>
<rect x="88.7" y="949.7" width="70.5" height="22.3" fill="#d2692b"/>
<rect x="163.3" y="949.7" width="93.2" height="22.3" fill="#d2692b"/>
<circle cx="73.7" cy="958.7" r="18.4" fill="#fff"/>
<circle cx="73.7" cy="958.7" r="16.5" fill="#e0932c"/>
<text x="78.06" y="909.9" font-size="42" font-weight="bold" fill="#fff" textLength="20.17" lengthAdjust="spacingAndGlyphs">E</text>
<text x="125.30" y="909.9" font-size="42" font-weight="bold" fill="#fff" textLength="22.20" lengthAdjust="spacingAndGlyphs">T</text>
<text x="175.48" y="910.3" font-size="42" font-weight="bold" fill="#fff" textLength="20.26" lengthAdjust="spacingAndGlyphs">S</text>
<text x="221.40" y="910.3" font-size="42" font-weight="bold" fill="#fff" textLength="24.16" lengthAdjust="spacingAndGlyphs">C</text>
<text x="66.60" y="932.5" font-size="10.2" font-weight="bold" fill="#3a3a3c" textLength="50.64" lengthAdjust="spacingAndGlyphs">European</text>
<text x="122.20" y="932.5" font-size="10.2" font-weight="bold" fill="#3a3a3c" textLength="49.95" lengthAdjust="spacingAndGlyphs">Transport</text>
<text x="178.90" y="932.5" font-size="10.2" font-weight="bold" fill="#3a3a3c" textLength="32.54" lengthAdjust="spacingAndGlyphs">Safety</text>
<text x="217.00" y="932.5" font-size="10.2" font-weight="bold" fill="#3a3a3c" textLength="39.02" lengthAdjust="spacingAndGlyphs">Council</text>
<text x="62.80" y="966.9" font-size="20" font-weight="bold" fill="#fff" textLength="21.52" lengthAdjust="spacingAndGlyphs">25</text>
<text x="103.80" y="966.1" font-size="13.4" fill="#fff" textLength="40.54" lengthAdjust="spacingAndGlyphs">YEARS</text>
<text x="176.43" y="966.1" font-size="13.1" fill="#fff" textLength="67.28" lengthAdjust="spacingAndGlyphs">1993-2018</text>
</g>
<!-- Road Safety PIN logo -->
<g>
<ellipse cx="652.4" cy="928.9" rx="44.6" ry="40.2" transform="rotate(-35.5 652.4 928.9)" fill="#3d2412" opacity=".55" filter="url(#blur1)"/>
<ellipse cx="653.0" cy="927.3" rx="44.5" ry="39.9" transform="rotate(-35.5 653.0 927.3)" fill="url(#brown)"/>
<path d="M618.14,947.43 616.56,944.06 615.37,940.55 614.59,936.95 614.21,933.31 614.20,929.67 614.56,926.09 615.25,922.60 616.25,919.22 617.53,915.98 619.05,912.89 620.81,909.97 622.77,907.22 624.92,904.65 627.25,902.26 629.73,900.06 632.36,898.05 635.14,896.23 638.04,894.63 641.07,893.23 644.21,892.06 647.46,891.13 650.81,890.45 654.24,890.04 657.72,889.92 661.24,890.12 664.77,890.64 668.27,891.51 671.69,892.73 674.99,894.32 678.12,896.28 681.03,898.58 683.66,901.21 685.97,904.13 687.92,907.30 689.49,910.67 690.66,914.18 691.43,917.79 691.80,921.43 691.79,925.06 691.42,928.64" fill="none" stroke="#f4ece4" stroke-width=".8"/>
<ellipse cx="651.6" cy="919.9" rx="28.6" ry="25.4" transform="rotate(-35.5 651.6 919.9)" fill="url(#silver)"/>
<g fill="url(#gold)">
<polygon points="643.8,896.3 645.8,895.3 648.8,895.9 651.2,895.3 652.9,896.3 653.8,898.8 655.0,900.5 656.7,898.0 659.2,896.2 662.5,895.5 665.8,896.3 669.2,898.4 672.1,901.3 674.6,905.1 676.7,909.7 677.9,914.7 677.5,918.0 675.0,917.6 672.5,916.3 670.0,916.8 666.7,915.9 663.3,915.3 660.8,915.1 660.0,916.3 661.7,917.6 665.0,918.4 668.3,919.0 670.8,920.1 671.7,922.2 670.0,922.6 668.3,920.9 666.2,920.1 664.2,919.8 662.1,919.5 660.0,920.1 659.2,921.3 660.4,923.0 661.7,925.1 662.1,926.8 660.8,927.2 659.6,925.5 658.3,923.4 657.1,921.8 655.8,920.9 654.2,921.8 652.9,923.0 651.7,924.7 651.2,926.8 652.1,928.8 651.2,931.3 650.4,933.8 650.0,936.3 648.8,938.4 646.7,939.0 643.3,938.8 640.4,938.0 638.8,935.5 638.2,932.2 638.5,928.8 640.0,927.6 642.9,927.0 645.4,926.5 646.5,924.7 646.0,922.6 645.0,920.9 643.3,920.1 641.8,919.0 642.5,917.6 644.6,916.5 646.7,915.1 647.9,913.0 648.8,910.5 649.6,908.0 651.0,905.9 650.0,904.2 648.3,903.0 646.2,901.8 644.6,900.5 643.5,898.4"/>
<polygon points="637.9,905.1 639.6,904.7 640.8,906.8 642.1,908.8 643.8,910.9 645.0,913.0 644.6,914.7 642.5,915.1 640.8,913.8 639.6,911.8 638.5,909.7 637.5,907.6"/>
<polygon points="634.6,910.9 636.2,910.1 637.9,911.3 638.3,913.4 637.1,915.1 635.4,914.8 634.3,913.0"/>
</g>
<path id="pintext" d="M620.93,947.54 A40.4,40.4 0 0 0 692.03,919.89" fill="none"/>
<text font-size="11.3" fill="#f3e9df"><textPath href="#pintext" startOffset="1" textLength="95" lengthAdjust="spacing">Road Safety PIN</textPath></text>
<polygon points="641.0,874.6 646.1,874.1 651.8,910.9 650.1,910.2" fill="url(#needle)"/>
<circle cx="641.9" cy="866.6" r="8.6" fill="#fff"/>
<circle cx="641.9" cy="866.6" r="8.0" fill="url(#pinhead)"/>
<ellipse cx="640.6" cy="862.6" rx="3.6" ry="1.8" transform="rotate(-25 640.6 862.6)" fill="#fff" opacity=".75"/>
</g>
</svg>
</body>
</html>
